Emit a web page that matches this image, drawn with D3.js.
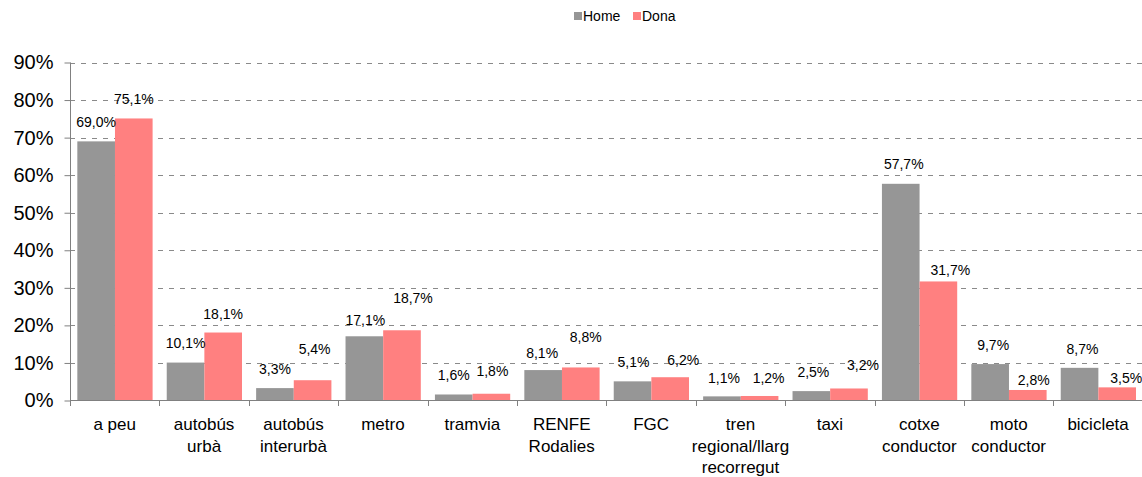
<!DOCTYPE html>
<html>
<head>
<meta charset="utf-8">
<script src="https://cdn.jsdelivr.net/npm/d3@7"></script>
<style>
  html, body { margin: 0; padding: 0; background: #fff; }
  svg { display: block; font-family: "Liberation Sans", Arial, sans-serif; }
</style>
</head>
<body>
<svg id="chart" width="1142" height="477"></svg>
<script>
// ---- data ----
const categories = [
  ["a peu"], ["autobús", "urbà"], ["autobús", "interurbà"], ["metro"], ["tramvia"],
  ["RENFE", "Rodalies"], ["FGC"], ["tren", "regional/llarg", "recorregut"], ["taxi"],
  ["cotxe", "conductor"], ["moto", "conductor"], ["bicicleta"]
];
const seriesNames = ["Home", "Dona"];
const homeValues = [69.0, 10.1, 3.3, 17.1, 1.6, 8.1, 5.1, 1.1, 2.5, 57.7, 9.7, 8.7];
const donaValues = [75.1, 18.1, 5.4, 18.7, 1.8, 8.8, 6.2, 1.2, 3.2, 31.7, 2.8, 3.5];
const yTicks = [0, 10, 20, 30, 40, 50, 60, 70, 80, 90];

// ---- layout ----
const colors = ["#969696", "#ff8080"];
const svg = d3.select("#chart");
const x = d3.scaleBand().domain(d3.range(categories.length)).range([70, 1142.8]);
const y = d3.scaleLinear().domain([0, 90]).range([400.5, 62.5]);
const bw = x.bandwidth();
const barW = bw * 0.421;
const barOff = bw * 0.082;
const fmt = v => v.toFixed(1).replace(".", ",") + "%";

// label placement tweaks (gap above bar top, horizontal nudge)
const labelGap = [
  [14.7, 15, 14, 11.7, 14, 12, 14.3, 13.7, 14.6, 15, 14, 14.3],
  [14.4, 13.7, 26, 27, 18, 25.6, 12.7, 13, 18.7, 6.7, 5, 4.3]
];
const labelDx = [
  [0, 0, 0, 1, 0, -1, 1, 2, 2, 3, 3, 3],
  [0, 0, 2, 11, 1, 5, 13, 9, 14, 12, 6, 9]
];

// gridlines
svg.append("g").selectAll("line").data(yTicks.filter(t => t > 0)).join("line")
  .attr("x1", 70).attr("x2", 1142)
  .attr("y1", d => Math.round(y(d)) + 0.5).attr("y2", d => Math.round(y(d)) + 0.5)
  .attr("stroke", "#8a8a8a").attr("stroke-width", 1).attr("stroke-dasharray", "5,6");

// bars
const series = [homeValues, donaValues];
series.forEach((vals, si) => {
  svg.append("g").selectAll("rect").data(vals).join("rect")
    .attr("x", (d, i) => x(i) + barOff + si * barW)
    .attr("y", d => y(d))
    .attr("width", barW)
    .attr("height", d => y(0) - y(d))
    .attr("fill", colors[si]);
});

// y axis
const yAxis = svg.append("g").attr("transform", "translate(70.5,0)")
  .call(d3.axisLeft(y).tickValues(yTicks).tickSize(6).tickFormat(d => d + "%"));
yAxis.select(".domain").attr("stroke", "#808080").attr("d", `M0,${y(90)}V${y(0)}`);
yAxis.selectAll(".tick line").attr("stroke", "#808080");
yAxis.selectAll(".tick text").attr("font-size", 20).attr("fill", "#000")
  .attr("x", -17).attr("font-family", "Liberation Sans, Arial, sans-serif");

// x axis line and ticks
const xg = svg.append("g");
xg.append("line").attr("x1", 70).attr("x2", 1142).attr("y1", 400.5).attr("y2", 400.5)
  .attr("stroke", "#808080");
xg.selectAll("line.tk").data(d3.range(categories.length + 1)).join("line")
  .attr("class", "tk")
  .attr("x1", i => Math.round(70 + i * bw) + 0.5).attr("x2", i => Math.round(70 + i * bw) + 0.5)
  .attr("y1", 400.5).attr("y2", 406)
  .attr("stroke", "#808080");

// category labels
categories.forEach((lines, i) => {
  const t = svg.append("text").attr("text-anchor", "middle").attr("font-size", 17).attr("fill", "#000");
  lines.forEach((ln, li) => {
    t.append("tspan").attr("x", x(i) + bw / 2).attr("y", 430 + li * 21.5).text(ln);
  });
});

// value labels
series.forEach((vals, si) => {
  svg.append("g").selectAll("text").data(vals).join("text")
    .attr("x", (d, i) => x(i) + barOff + si * barW + barW / 2 + labelDx[si][i])
    .attr("y", (d, i) => y(d) - labelGap[si][i])
    .attr("text-anchor", "middle")
    .attr("font-size", 14).attr("fill", "#000")
    .text(fmt);
});

// legend
const leg = svg.append("g");
const legX = [574, 633];
seriesNames.forEach((n, i) => {
  leg.append("rect").attr("x", legX[i]).attr("y", 12).attr("width", 8).attr("height", 8).attr("fill", colors[i]);
  leg.append("text").attr("x", legX[i] + 9).attr("y", 20.5).attr("font-size", 14).attr("fill", "#000").text(n);
});
</script>
</body>
</html>
